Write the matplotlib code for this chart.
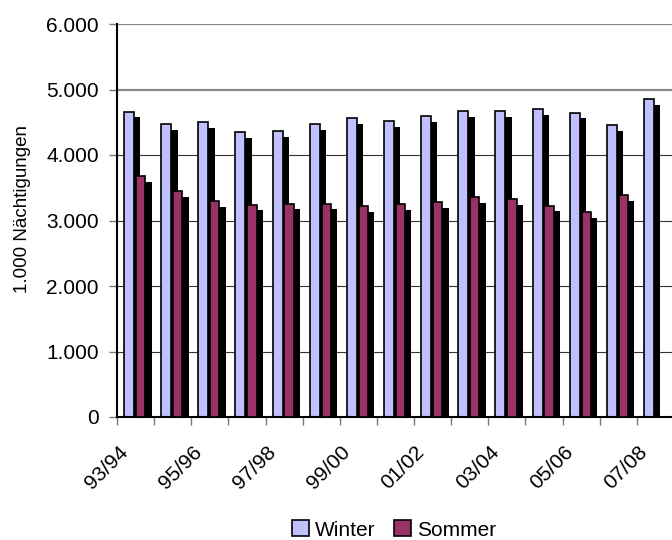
import numpy as np
import matplotlib
matplotlib.use("Agg")
import matplotlib.pyplot as plt
from matplotlib.transforms import ScaledTranslation

plt.rcParams['font.family'] = ['Liberation Sans', 'DejaVu Sans']

seasons = ["93/94", "94/95", "95/96", "96/97", "97/98", "98/99", "99/00",
           "00/01", "01/02", "02/03", "03/04", "04/05", "05/06", "06/07", "07/08"]
winter = [4660, 4470, 4500, 4345, 4365, 4470, 4560, 4515, 4595, 4670, 4670,
          4700, 4645, 4455, 4855]
sommer = [3680, 3450, 3295, 3240, 3255, 3255, 3220, 3250, 3280, 3355, 3325,
          3225, 3130, 3390, np.nan]
yticks = [0, 1000, 2000, 3000, 4000, 5000, 6000]
ytick_labels = ["0", "1.000", "2.000", "3.000", "4.000", "5.000", "6.000"]

W_COL = "#C0C0FF"
S_COL = "#993366"
DEPTH = 85       # visual depth of the 3D side (in data units)
DX = 0.17        # horizontal offset of the side face
BW = 0.27
FS = 15

fig = plt.figure(figsize=(6.72, 5.4), dpi=100)
ax = fig.add_axes([117 / 672, 1 - 417 / 540, (674 - 117) / 672, (417 - 24) / 540])

x = np.arange(len(seasons))
w_left = x - 0.31
s_left = x + 0.01
wv = np.array(winter, dtype=float)
sv = np.array(sommer, dtype=float)

# gridlines
for v in yticks:
    if v == 0:
        continue
    if v >= 5000:
        ax.axhline(v, color="#888888", lw=1.6, zorder=0)
    else:
        ax.axhline(v, color="#333333", lw=0.8, zorder=0)

ax.bar(w_left + DX, wv - DEPTH, width=BW, align="edge", color="black", lw=0, zorder=1)
ax.bar(w_left, wv, width=BW, align="edge", color=W_COL, edgecolor="black", lw=1.2,
       zorder=2, label="Winter")
ax.bar(s_left + DX, sv - DEPTH, width=BW - 0.02, align="edge", color="black", lw=0, zorder=3)
ax.bar(s_left, sv, width=BW - 0.02, align="edge", color=S_COL, edgecolor="black", lw=1.2,
       zorder=4, label="Sommer")

ax.set_xlim(-0.5, len(seasons) - 0.5)
ax.set_ylim(0, 6000)
ax.set_yticks(yticks)
ax.set_yticklabels(ytick_labels, fontsize=FS)
ax.tick_params(axis="y", length=6, width=1, color="#777777", direction="out", pad=7)

ax.set_xticks(np.arange(len(seasons) + 1) - 0.5, minor=False)
ax.set_xticklabels([])
ax.tick_params(axis="x", which="major", length=6, width=1, color="#777777", direction="out")
ax.set_xticks(x[::2], minor=True)
labs = ax.set_xticklabels(seasons[::2], minor=True, rotation=45, ha="right", va="center",
                          rotation_mode="anchor", fontsize=FS)
ax.tick_params(axis="x", which="minor", length=0, pad=23)
shift = ScaledTranslation(-11 / 100, 0, fig.dpi_scale_trans)
for lab in labs:
    lab.set_transform(lab.get_transform() + shift)

for s in ["top", "right"]:
    ax.spines[s].set_visible(False)
ax.spines["left"].set_linewidth(1.5)
ax.spines["bottom"].set_linewidth(1.5)

ax.set_ylabel("1.000 Nächtigungen", fontsize=13.5)
ax.yaxis.set_label_coords(-0.155, 0.53)

leg = fig.legend(loc="center", bbox_to_anchor=(394 / 672, 1 - 530 / 540), ncol=2,
                 frameon=False, fontsize=FS, handlelength=0.8, handleheight=0.8,
                 handletextpad=0.3, columnspacing=0.9, borderpad=0.1)

fig.savefig("out.png", dpi=100)
